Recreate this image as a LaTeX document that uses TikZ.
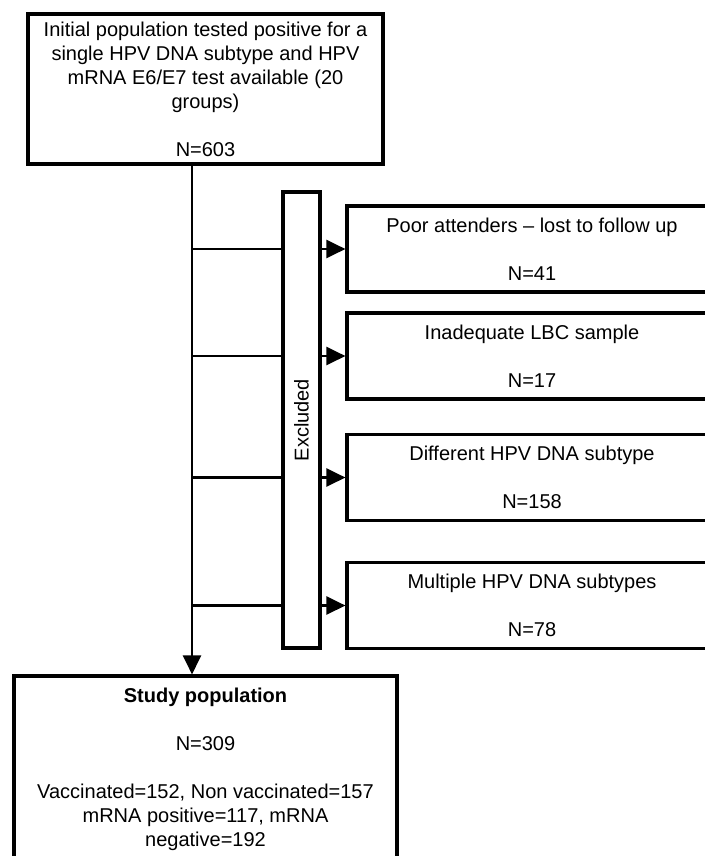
\documentclass[tikz,border=0pt]{standalone}
\usepackage{fontspec}
\setmainfont{Liberation Sans}
\usetikzlibrary{arrows.meta}
\tikzset{fig/.style={line join=miter,>={Triangle[length=9.5pt,width=9pt]}},
  flowbox/.style={draw,line width=1.6pt,align=center,inner sep=0pt,font=\fontsize{10}{12}\selectfont},
  exbox/.style={flowbox,minimum width=185pt,minimum height=43pt},
  link/.style={line width=1.4pt}}

\begin{document}
\begin{tikzpicture}[fig,x=0.5pt,y=-0.5pt]
  \clip(0,0)rectangle(705,856);
  \node[flowbox,minimum width=177.5pt,minimum height=75pt](init)at(205.5,89){Initial population tested positive for a\\single HPV DNA subtype and HPV\\mRNA E6/E7 test available (20\\groups)\\[12pt]N=603};
  \node[flowbox,minimum width=191.5pt,minimum height=93pt](study)at(205.5,769){\bfseries Study population\\[12pt]N=309\\[12pt]Vaccinated=152, Non vaccinated=157\\mRNA positive=117, mRNA\\negative=192};
  % exclusion bar
  \node[flowbox,minimum width=18.5pt,minimum height=228pt](bar)at(301.5,420){};
  \node[rotate=90,font=\fontsize{10}{12}\selectfont](barlabel)at(bar){Excluded};
  \coordinate(trunk)at(192,0);
  \draw[link,->](init.south -| trunk)--(study.north -| trunk);
  % excluded groups
  \foreach \i/\y/\txt/\n in {1/249/Poor attenders -- lost to follow up/41,2/356/Inadequate LBC sample/17,3/477.5/Different HPV DNA subtype/158,4/605.5/Multiple HPV DNA subtypes/78}{
    \node[exbox](ex\i)at(532,\y){\txt\\[12pt]N=\n};
    \draw[link](trunk |- ex\i)--(bar.west |- ex\i);
    \draw[link,->](bar.east |- ex\i)--(ex\i.west);
  }
\end{tikzpicture}
\end{document}
